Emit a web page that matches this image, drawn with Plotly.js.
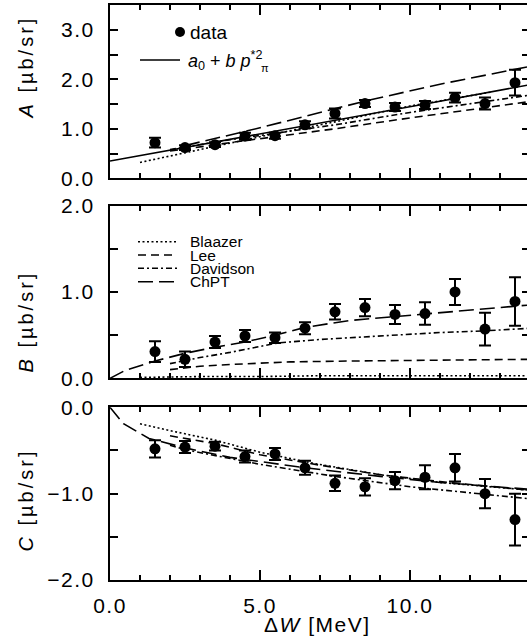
<!DOCTYPE html>
<html><head><meta charset="utf-8">
<script src="https://cdn.plot.ly/plotly-3.0.1.min.js"></script>
<style>
html,body{margin:0;padding:0;overflow:hidden;background:#fff}
.xtick text,.x2tick text,.x3tick text,.ytick text,.y2tick text,.y3tick text{letter-spacing:1.5px}
g.annotation[data-index="0"] text,g.annotation[data-index="1"] text,g.annotation[data-index="2"] text{letter-spacing:3px}
g.annotation[data-index="3"] text{letter-spacing:1.5px}
</style>
</head><body><div id="chart" style="width:540px;height:638px"></div>
<script>
// ---- data ----
const energies = [1.5,2.5,3.5,4.5,5.5,6.5,7.5,8.5,9.5,10.5,11.5,12.5,13.5];
const aValues = [0.72,0.62,0.68,0.85,0.86,1.08,1.31,1.51,1.44,1.48,1.63,1.51,1.93];
const aErrors = [0.10,0.05,0.05,0.07,0.06,0.07,0.10,0.07,0.08,0.08,0.10,0.12,0.26];
const bValues = [0.31,0.22,0.42,0.49,0.47,0.58,0.77,0.82,0.74,0.75,1.00,0.57,0.89];
const bErrors = [0.12,0.09,0.07,0.07,0.06,0.07,0.09,0.10,0.11,0.13,0.15,0.19,0.28];
const cValues = [-0.48,-0.46,-0.45,-0.57,-0.54,-0.70,-0.88,-0.92,-0.85,-0.81,-0.70,-1.00,-1.30];
const cErrors = [0.10,0.07,0.05,0.07,0.07,0.08,0.09,0.10,0.10,0.14,0.16,0.17,0.30];

// panel A curves
const aFitX = [0,3.5,7,10.5,14];            const aFitY = [0.35,0.73,1.12,1.50,1.89];
const aBlaazerX = [1,3,5,7.5,10,12.7];      const aBlaazerY = [0.32,0.58,0.84,1.14,1.46,1.74];
const aLeeX = [2,4,7.5,10,14];              const aLeeY = [0.55,0.72,1.00,1.22,1.55];
const aDavidsonX = [2,4,7.5,10,14];         const aDavidsonY = [0.58,0.78,1.08,1.33,1.68];
const aChptX = [2.5,5,8.5,11,14];           const aChptY = [0.66,1.02,1.56,1.90,2.26];
// panel B curves
const bBlaazerX = [1,3,5,7,9,11,14];        const bBlaazerY = [0.01,0.02,0.02,0.03,0.03,0.03,0.03];
const bLeeX = [2,3,4,6,8,11,14];            const bLeeY = [0.10,0.14,0.16,0.19,0.20,0.21,0.22];
const bDavidsonX = [2,3,4,5,5.6,7,9,11,12.5,14];
const bDavidsonY = [0.17,0.24,0.30,0.37,0.41,0.45,0.49,0.53,0.55,0.58];
const bChptX = [0,0.5,1.5,2.5,3.5,4.5,5.5,6.5,8,10,12,14];
const bChptY = [0,0.09,0.20,0.29,0.36,0.42,0.50,0.59,0.67,0.73,0.79,0.85];
// panel C curves
const cBlaazerX = [1,2,3.5,5,6.8,9,11,14];  const cBlaazerY = [-0.19,-0.27,-0.38,-0.52,-0.65,-0.78,-0.87,-0.96];
const cLeeX = [2,3.5,5,7,9,11,14];          const cLeeY = [-0.33,-0.42,-0.55,-0.67,-0.78,-0.86,-0.96];
const cDavidsonX = [2,2.5,5,7.5,10,12,14];  const cDavidsonY = [-0.44,-0.49,-0.66,-0.80,-0.92,-0.99,-1.06];
const cChptX = [0,0.45,1.3,2.5,4,6.5,9,11,14];
const cChptY = [0,-0.19,-0.36,-0.47,-0.58,-0.70,-0.80,-0.87,-0.95];

const modelNames = ['Blaazer','Lee','Davidson','ChPT'];
const fitLabel = '<i>a</i><sub>0</sub> + <i>b</i> <i>p</i><sup>*2</sup>';
const yTitles = ['<i>A</i> [µb/sr]','<i>B</i> [µb/sr]','<i>C</i> [µb/sr]'];
const xTitle = 'Δ<i>W</i> [MeV]';

// ---- styling ----
const FONT = 'Liberation Sans, Arial, Helvetica, sans-serif';
const DASH = {Blaazer:'2px,2.5px', Lee:'8px,5px', Davidson:'6px,3px,2px,3px', ChPT:'15px,6px', fit:'solid'};
const LW = 1.6;

function curve(x, y, dash, xa, ya) {
  return {x:x, y:y, mode:'lines', xaxis:xa, yaxis:ya, showlegend:false, hoverinfo:'skip',
          line:{color:'#000', width:LW, dash:dash}};
}
function points(y, err, xa, ya) {
  return {x:energies, y:y, mode:'markers', xaxis:xa, yaxis:ya, showlegend:false,
          marker:{color:'#000', size:11, symbol:'circle'},
          error_y:{type:'data', array:err, visible:true, color:'#000', thickness:2, width:6}};
}

const traces = [
  curve(aBlaazerX,aBlaazerY,DASH.Blaazer,'x','y'),
  curve(aLeeX,aLeeY,DASH.Lee,'x','y'),
  curve(aDavidsonX,aDavidsonY,DASH.Davidson,'x','y'),
  curve(aChptX,aChptY,DASH.ChPT,'x','y'),
  curve(aFitX,aFitY,DASH.fit,'x','y'),
  points(aValues,aErrors,'x','y'),
  curve(bBlaazerX,bBlaazerY,DASH.Blaazer,'x2','y2'),
  curve(bLeeX,bLeeY,DASH.Lee,'x2','y2'),
  curve(bDavidsonX,bDavidsonY,DASH.Davidson,'x2','y2'),
  curve(bChptX,bChptY,DASH.ChPT,'x2','y2'),
  points(bValues,bErrors,'x2','y2'),
  curve(cBlaazerX,cBlaazerY,DASH.Blaazer,'x3','y3'),
  curve(cLeeX,cLeeY,DASH.Lee,'x3','y3'),
  curve(cDavidsonX,cDavidsonY,DASH.Davidson,'x3','y3'),
  curve(cChptX,cChptY,DASH.ChPT,'x3','y3'),
  points(cValues,cErrors,'x3','y3')
];

function xAxis(anchor, show) {
  return {anchor:anchor, range:[0,14], showline:true, linewidth:2, linecolor:'#000', mirror:'allticks',
    ticks:'inside', ticklen:10, tickwidth:2, tickcolor:'#000', dtick:5, tick0:0,
    showticklabels:show, tickformat:'.1f', ticklabelstandoff:6,
    tickfont:{family:FONT, size:21, color:'#000'},
    minor:{dtick:1, tick0:0, ticks:'inside', ticklen:5, tickwidth:1.5, tickcolor:'#000', showgrid:false},
    showgrid:false, zeroline:false, fixedrange:true};
}
function yAxis(anchor, range, domain) {
  return {anchor:anchor, range:range, domain:domain, showline:true, linewidth:2, linecolor:'#000',
    mirror:'allticks', ticks:'inside', ticklen:8, tickwidth:2, tickcolor:'#000', dtick:1, tick0:0,
    tickformat:'.1f', ticklabelstandoff:9, tickfont:{family:FONT, size:21, color:'#000'},
    minor:{dtick:0.5, tick0:0, ticks:'inside', ticklen:8, tickwidth:2, tickcolor:'#000', showgrid:false},
    showgrid:false, zeroline:false, fixedrange:true};
}

// pixel -> paper helpers (plot area: x 110..530, y 5..580)
const PX = x => (x-110)/420;
const PY = y => (580-y)/575;

const shapes = [];
const annotations = [];
// axis titles first (indices 0..3, letter-spaced by CSS)
[67, 322, 500].forEach((y,i) => annotations.push({xref:'paper', yref:'paper', x:PX(26), y:PY(y),
  xanchor:'center', yanchor:'middle', textangle:-90, text:yTitles[i], showarrow:false,
  font:{family:FONT, size:20, color:'#000'}}));
annotations.push({xref:'paper', yref:'paper', x:PX(317), y:PY(624), xanchor:'center', yanchor:'middle',
  text:xTitle, showarrow:false, font:{family:FONT, size:21, color:'#000'}});

function legendLine(x0, x1, y, dash) {
  shapes.push({type:'line', xref:'paper', yref:'paper', x0:PX(x0), x1:PX(x1), y0:PY(y), y1:PY(y),
               line:{color:'#000', width:LW, dash:dash}});
}
function legendText(x, y, txt, size) {
  annotations.push({xref:'paper', yref:'paper', x:PX(x), y:PY(y), xanchor:'left', yanchor:'middle',
    text:txt, showarrow:false, font:{family:FONT, size:size, color:'#000'}});
}
// legend panel A
shapes.push({type:'circle', xref:'paper', yref:'paper', x0:PX(175), x1:PX(185), y0:PY(37), y1:PY(27),
             fillcolor:'#000', line:{color:'#000', width:0}});
legendText(188, 32, 'data', 19);
legendLine(140, 180, 60, 'solid');
legendText(186, 60, fitLabel, 18);
annotations.push({xref:'paper', yref:'paper', x:PX(259), y:PY(68), xanchor:'left', yanchor:'middle',
  text:'π', showarrow:false, font:{family:FONT, size:11, color:'#000'}});
// legend panel B
const rowsB = [241.7, 255, 268.3, 281.7];
modelNames.forEach((m,i) => { legendLine(138, 177, rowsB[i], DASH[m]); legendText(188, rowsB[i], m, 15.5); });

const layout = {
  width:540, height:638, margin:{l:110, r:10, t:5, b:58},
  paper_bgcolor:'#fff', plot_bgcolor:'#fff', showlegend:false,
  font:{family:FONT, color:'#000'},
  xaxis:xAxis('y', false), xaxis2:xAxis('y2', false), xaxis3:xAxis('y3', true),
  yaxis:yAxis('x', [0,3.5], [0.6986,1]),
  yaxis2:yAxis('x2', [0,2], [0.3508,0.6510]),
  yaxis3:yAxis('x3', [-2,0], [0,0.3003]),
  shapes:shapes, annotations:annotations
};
Plotly.newPlot('chart', traces, layout, {staticPlot:true, displayModeBar:false});
</script></body></html>
